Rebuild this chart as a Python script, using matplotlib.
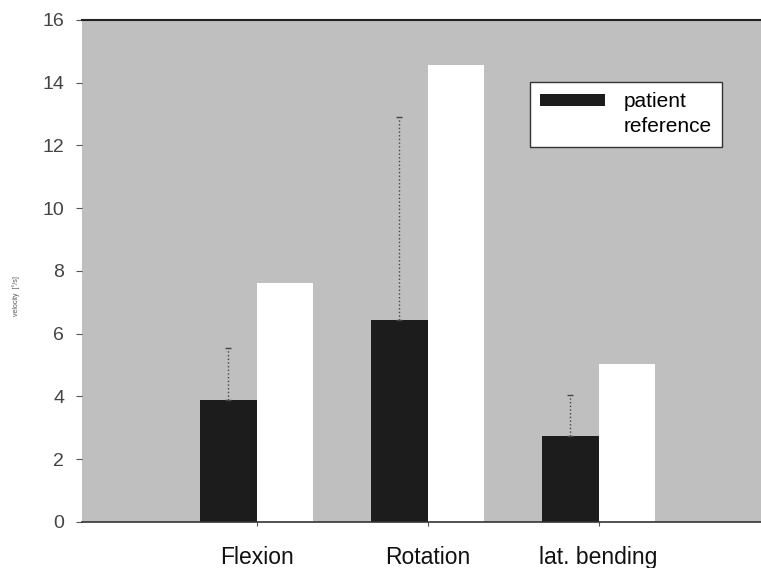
import matplotlib.pyplot as plt
import numpy as np

plt.rcParams['font.family'] = ['Liberation Sans', 'DejaVu Sans']

categories = ['Flexion', 'Rotation', 'lat. bending']
patient = [3.9, 6.45, 2.75]
patient_sd = [1.65, 6.45, 1.3]
reference = [7.6, 14.55, 5.05]

fig = plt.figure(figsize=(7.61, 5.68), dpi=100)
ax = fig.add_axes([0.108, 0.081, 0.892, 0.884])
ax.set_facecolor('#bfbfbf')

x = np.arange(len(categories))
w = 0.33

# patient bars with upper error bar only (dotted)
ax.bar(x - w / 2, patient, w, color='#1c1c1c', label='patient', zorder=2)
eb = ax.errorbar(x - w / 2, patient, yerr=[np.zeros(3), patient_sd], fmt='none',
                 ecolor='#444444', elinewidth=1.0, capsize=2, capthick=1, zorder=3)
eb[2][0].set_linestyle(':')
ax.bar(x + w / 2, reference, w, color='white', label='reference', zorder=2)

ax.set_xlim(-1.02, 2.95)
ax.set_ylim(0, 16)
ax.set_yticks(range(0, 17, 2))
ax.set_xticks(x)
ax.set_xticklabels(categories, fontsize=16.5, color='#111111')
ax.tick_params(axis='y', labelsize=14, labelcolor='#444444', length=4, color='#555555', pad=9)
ax.tick_params(axis='x', length=3, color='#555555', pad=14)

for s in ['left', 'right']:
    ax.spines[s].set_visible(False)
ax.spines['top'].set_color('#222222')
ax.spines['top'].set_linewidth(1.5)
ax.spines['bottom'].set_color('#333333')
ax.spines['bottom'].set_linewidth(1.2)

ax.set_ylabel('velocity  [°/s]', fontsize=5, color='#555555')
ax.yaxis.set_label_coords(-0.092, 0.45)

leg = ax.legend(loc='upper right', bbox_to_anchor=(0.943, 0.877), borderaxespad=0,
                fontsize=15, frameon=True, fancybox=False, edgecolor='#333333',
                handlelength=3.1, handleheight=0.5, handletextpad=0.9,
                borderpad=0.5, labelspacing=0.3)
leg.get_frame().set_linewidth(1.0)
leg.get_frame().set_facecolor('white')
leg.get_frame().set_alpha(1.0)

fig.savefig('out.png', dpi=100)
